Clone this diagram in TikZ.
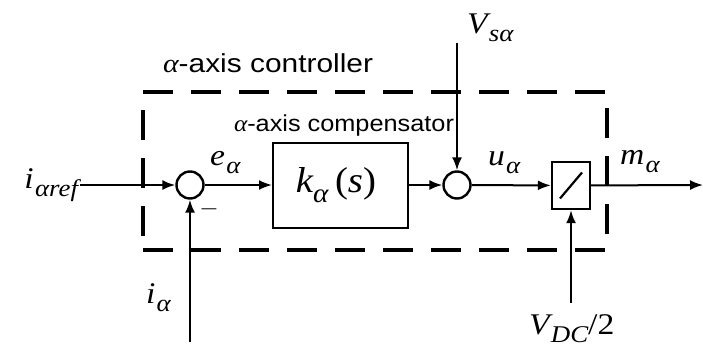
\documentclass[tikz,border=0pt]{standalone}
\usepackage{fontspec}
\usepackage{graphicx}
\setmainfont{Liberation Serif}
\setsansfont{Liberation Sans}
\usetikzlibrary{arrows.meta}
\newcommand{\lbl}[2]{\scalebox{1.12}[1]{\itshape #1\hspace{0.04em}\raisebox{-0.28em}{\fontsize{24}{24}\selectfont\itshape #2}}}
\newcommand{\hs}[1]{\scalebox{1.1}[1]{#1}}
\newcommand{\galpha}{{\rmfamily\itshape α}}
\begin{document}
\begin{tikzpicture}[x=1pt,y=-1pt, line width=2pt,
  sumnode/.style={circle, draw, line width=2.4pt, minimum size=27pt, inner sep=0pt},
  blockbox/.style={draw, line width=2pt, minimum width=135pt, minimum height=85pt, inner sep=0pt},
  divbox/.style={draw, line width=2.4pt, minimum width=38pt, minimum height=47pt, inner sep=0pt},
  ctrlbox/.style={draw, line width=3.5pt, dash pattern=on 30pt off 18pt, inner sep=0pt},
  sig/.style={-{Latex[length=13pt,width=10pt]}},
  mlabel/.style={font=\fontsize{30}{32}\selectfont, inner sep=0pt},
  slabel/.style={font=\sffamily\fontsize{26}{28}\selectfont, inner sep=0pt}]
\useasboundingbox (0,0) rectangle (703,348);

% dashed controller boundary
\node[ctrlbox, minimum width=464pt, minimum height=158pt] (ctrl) at (375,171) {};

% blocks
\node[sumnode] (s1) at (190,185) {};
\node[blockbox] (k) at (340.5,185) {};
\node[mlabel, font=\fontsize{36}{38}\selectfont] (klab) at (336,185) {\scalebox{1.08}[1]{\itshape k\raisebox{-0.28em}{\fontsize{27}{27}\selectfont α}\,\upshape(\itshape s\upshape)}};
\node[sumnode] (s2) at (457,185) {};
\node[divbox] (div) at (571,185.5) {};
\draw[line width=2.2pt] ([shift={(-11,13)}]div.center) -- ([shift={(11,-13)}]div.center);

% free ends
\coordinate (inA) at (80,185);
\coordinate (outE) at (703,185);
\coordinate (iaB) at (190,342);
\coordinate (vsT) at (457,43);
\coordinate (vdcB) at (571,303);

% connectors
\draw[sig] (inA) -- (s1);
\draw[sig] (s1) -- (k);
\draw[sig] (k) -- (s2);
\draw[sig] (s2) -- (div);
\draw[sig] (div) -- (outE);
\draw[sig] (iaB) -- (s1);
\draw[sig] (vsT) -- (s2);
\draw[sig] (vdcB) -- (div);

% labels
\node[slabel, anchor=base west] (ctrltxt) at (162,72) {\scalebox{1.15}[1]{\galpha-axis controller}};
\node[slabel, font=\sffamily\fontsize{23}{25}\selectfont, anchor=base west] (comptxt) at (233,131) {\hs{\galpha-axis compensator}};
\node[mlabel, anchor=base east] (iref) at (79,188) {\lbl{i}{αref}};
\node[mlabel, anchor=base west] (ea) at (209,165) {\lbl{e}{α}};
\node[mlabel, anchor=base west] (ua) at (487,165) {\lbl{u}{α}};
\node[mlabel, anchor=base west] (ma) at (619,164) {\lbl{m}{α}};
\node[mlabel, font=\fontsize{24}{26}\selectfont] (minus) at (209,209) {$-$};
\node[mlabel, anchor=base west] (vs) at (466,33) {\lbl{V}{sα}};
\node[mlabel, anchor=base west] (ia) at (145,303) {\lbl{i}{α}};
\node[mlabel, anchor=base west] (vdc) at (528,334) {\lbl{V}{DC}\scalebox{1.12}[1]{/2}};
\end{tikzpicture}
\end{document}
